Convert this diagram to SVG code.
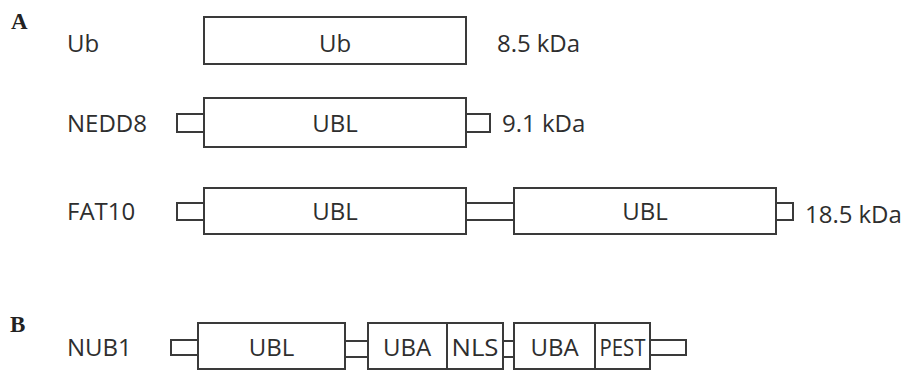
<svg xmlns="http://www.w3.org/2000/svg" width="914" height="370" viewBox="0 0 914 370">
<style>
.b{fill:#fff;stroke:#3a3a3a;stroke-width:2}
.t{font-family:"Open Sans","Liberation Sans",sans-serif;font-size:24px;fill:#2e2e2e}
.c{text-anchor:middle}
.p{font-family:"Liberation Serif",serif;font-weight:bold;font-size:23px;fill:#222}
</style>
<rect width="914" height="370" fill="#fff"/>
<text class="p" x="11" y="29">A</text>
<text class="p" x="10" y="332">B</text>
<g id="connectors">
<rect class="b" x="177" y="114" width="27" height="18"/>
<rect class="b" x="466" y="114" width="24" height="18"/>
<rect class="b" x="177" y="203" width="27" height="17"/>
<rect class="b" x="466" y="203" width="48" height="17"/>
<rect class="b" x="776" y="203" width="17" height="17"/>
<rect class="b" x="171" y="340" width="27" height="15"/>
<rect class="b" x="345" y="341" width="23" height="16"/>
<rect class="b" x="503" y="341" width="11" height="16"/>
<rect class="b" x="650" y="340" width="36" height="15"/>
</g>
<g id="ub">
<text class="t" x="67" y="52">Ub</text>
<rect class="b" x="204" y="17" width="262" height="47"/>
<text class="t c" x="335" y="52">Ub</text>
<text class="t" x="497" y="52">8.5<tspan dx="6">kDa</tspan></text>
</g>
<g id="nedd8">
<text class="t" x="67" y="132">NEDD8</text>
<rect class="b" x="204" y="98" width="262" height="49"/>
<text class="t c" x="335" y="132">UBL</text>
<text class="t" x="502" y="132">9.1 kDa</text>
</g>
<g id="fat10">
<text class="t" x="67" y="220">FAT10</text>
<rect class="b" x="204" y="188" width="262" height="46"/>
<text class="t c" x="335" y="220">UBL</text>
<rect class="b" x="514" y="188" width="262" height="46"/>
<text class="t c" x="645" y="220">UBL</text>
<text class="t" x="805" y="223">18.5<tspan dx="6">kDa</tspan></text>
</g>
<g id="nub1">
<text class="t" x="67" y="356">NUB1</text>
<rect class="b" x="198" y="323" width="147" height="46"/>
<text class="t c" x="271.5" y="356">UBL</text>
<rect class="b" x="368" y="323" width="79" height="46"/>
<text class="t c" x="407" y="356">UBA</text>
<rect class="b" x="447" y="323" width="56" height="46"/>
<text class="t c" x="475" y="356" textLength="47" lengthAdjust="spacingAndGlyphs">NLS</text>
<rect class="b" x="514" y="323" width="81" height="46"/>
<text class="t c" x="554.5" y="356">UBA</text>
<rect class="b" x="595" y="323" width="55" height="46"/>
<text class="t c" x="622.5" y="356" textLength="46" lengthAdjust="spacingAndGlyphs">PEST</text>
</g>
</svg>
